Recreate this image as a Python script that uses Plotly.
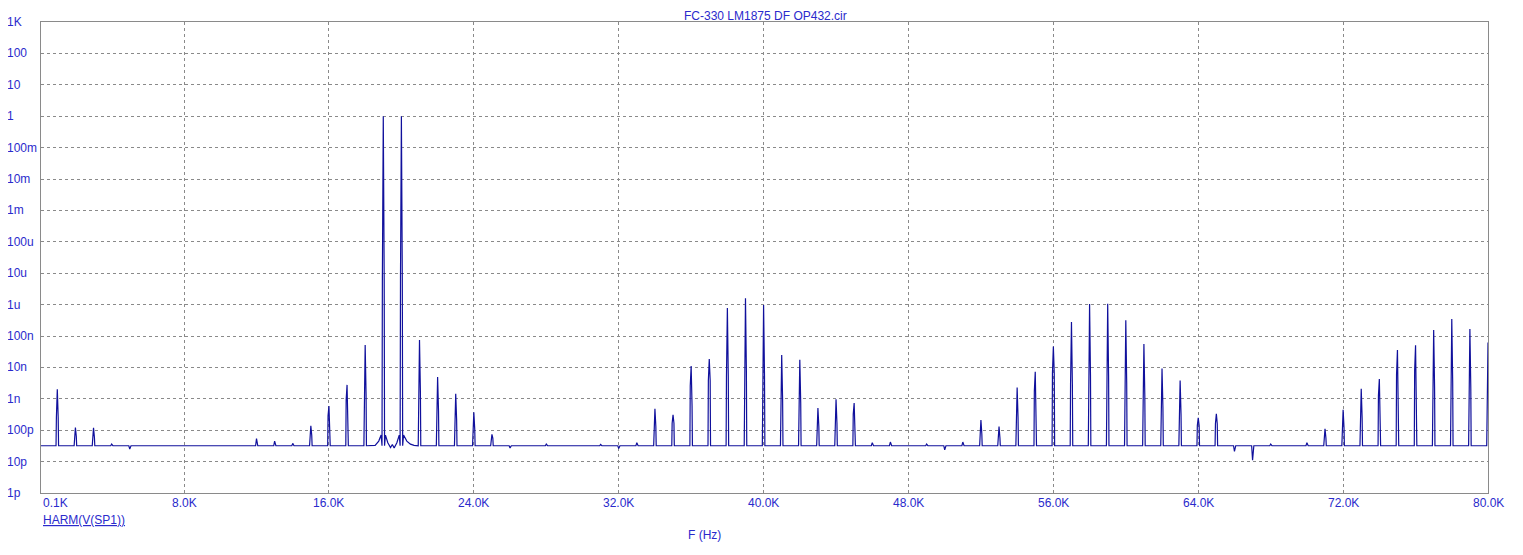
import math
import plotly.graph_objects as go

# ---------------- data ----------------
title_text = "FC-330 LM1875 DF OP432.cir"
trace_name = "HARM(V(SP1))"
x_title = "F (Hz)"

noise_floor = 32e-12  # V

# harmonic / spur frequencies (kHz)
spur_freq_k = [1, 2, 3, 4, 5, 12, 13, 14, 15, 16, 17, 18, 19, 20, 21, 22, 23, 24, 25, 26,
               28, 31, 32, 33, 34, 35, 36, 37, 38, 39, 40, 41, 42, 43, 44, 45, 46, 47, 49,
               50, 51, 52, 53, 54, 55, 56, 57, 58, 59, 60, 61, 62, 63, 64, 65, 66, 67, 68,
               70, 71, 72, 73, 74, 75, 76, 77, 78, 79, 80]
# peak value of each spur (V)
spur_peak = [2.0e-9, 1.22e-10, 1.2e-10, 3.6e-11, 2.5e-11, 5.4e-11, 4.5e-11, 3.8e-11, 1.38e-10,
             5.9e-10, 2.77e-9, 5.2e-8, 1.0, 1.0, 7.5e-8, 4.9e-9, 1.45e-9, 3.7e-10, 7.4e-11,
             2.7e-11, 3.6e-11, 3.5e-11, 2.6e-11, 4.0e-11, 4.8e-10, 3.1e-10, 1.11e-8, 1.86e-8,
             7.8e-7, 1.6e-6, 9.7e-7, 2.5e-8, 1.74e-8, 5.1e-10, 9.7e-10, 7.3e-10, 4.0e-11,
             4.2e-11, 3.6e-11, 2.35e-11, 4.2e-11, 2.1e-10, 1.3e-10, 2.3e-9, 7.2e-9, 4.6e-8,
             2.8e-7, 1.05e-6, 1.07e-6, 3.2e-7, 5.6e-8, 9.3e-9, 3.8e-9, 2.5e-10, 3.3e-10,
             2.1e-11, 1.1e-11, 3.6e-11, 4.0e-11, 1.1e-10, 4.5e-10, 2.07e-9, 4.3e-9, 3.6e-8,
             5.1e-8, 1.55e-7, 3.5e-7, 1.67e-7, 6.2e-8]
# value in the bin just below each spur (V)
spur_low_side = [2.5e-10, 6.3e-11, 6.0e-11, 32e-12, 32e-12, 32e-12, 32e-12, 32e-12, 6.8e-11,
                 2.9e-10, 9.3e-10, 1.33e-9, 7.1e-6, 7.1e-6, 1.6e-9, 4.1e-10, 2.1e-10, 1.07e-10,
                 5.5e-11, 32e-12, 32e-12, 32e-12, 32e-12, 32e-12, 1.32e-10, 1.66e-10, 2.57e-9,
                 3.8e-9, 5.1e-9, 7.3e-9, 5.4e-9, 9.3e-10, 7.4e-10, 1.3e-10, 1.7e-10, 3.2e-10,
                 32e-12, 32e-12, 32e-12, 32e-12, 32e-12, 7.7e-11, 5.7e-11, 2.6e-10, 1.7e-9,
                 6.5e-9, 2.9e-9, 5.6e-9, 5.6e-9, 3.2e-9, 1.3e-9, 5.4e-10, 3.3e-10, 1.4e-10,
                 1.6e-10, 32e-12, 32e-12, 32e-12, 32e-12, 5.7e-11, 1.2e-10, 2.5e-10, 1.25e-9,
                 5.7e-9, 7.8e-9, 2.2e-9, 3.3e-9, 2.2e-9, 1.25e-9]
# value in the bin just above each spur (V)
spur_high_side = [2.5e-10, 6.3e-11, 6.0e-11, 32e-12, 32e-12, 32e-12, 32e-12, 32e-12, 6.8e-11,
                  1.3e-10, 3.0e-10, 1.33e-9, 7.1e-6, 7.1e-6, 1.6e-9, 4.1e-10, 2.1e-10, 1.07e-10,
                  5.5e-11, 32e-12, 32e-12, 32e-12, 32e-12, 32e-12, 1.32e-10, 1.66e-10, 5.9e-10,
                  3.8e-9, 5.1e-9, 7.3e-9, 5.4e-9, 9.3e-10, 7.4e-10, 1.3e-10, 1.7e-10, 1.48e-10,
                  32e-12, 32e-12, 32e-12, 32e-12, 32e-12, 7.7e-11, 5.7e-11, 2.6e-10, 4.8e-10,
                  6.5e-9, 2.9e-9, 5.6e-9, 5.6e-9, 3.2e-9, 1.3e-9, 5.4e-10, 3.3e-10, 1.4e-10,
                  1.6e-10, 32e-12, 32e-12, 32e-12, 32e-12, 5.7e-11, 1.2e-10, 2.5e-10, 3.8e-10,
                  1.1e-9, 1.2e-9, 2.2e-9, 3.3e-9, 2.2e-9, 1.25e-9]

# leakage skirt around the two test tones (kHz, V)
skirt_freq_k = [18.55, 18.75, 18.88, 19.12, 19.25, 19.4, 19.5, 19.6, 19.75, 19.88,
                20.12, 20.3, 20.5, 20.7]
skirt_value = [33e-12, 45e-12, 70e-12, 70e-12, 40e-12, 28e-12, 35e-12, 27e-12, 40e-12, 70e-12,
               70e-12, 45e-12, 36e-12, 33e-12]

y_tick_values = [1e3, 1e2, 1e1, 1, 1e-1, 1e-2, 1e-3, 1e-4, 1e-5, 1e-6, 1e-7, 1e-8, 1e-9,
                 1e-10, 1e-11, 1e-12]
y_tick_labels = ["1K", "100", "10", "1", "100m", "10m", "1m", "100u", "10u", "1u", "100n",
                 "10n", "1n", "100p", "10p", "1p"]
x_tick_values = [100, 8000, 16000, 24000, 32000, 40000, 48000, 56000, 64000, 72000, 80000]
x_tick_labels = ["0.1K", "8.0K", "16.0K", "24.0K", "32.0K", "40.0K", "48.0K", "56.0K",
                 "64.0K", "72.0K", "80.0K"]

# ---------------- build the spectrum trace ----------------
BIN = 0.05  # kHz, bin step of the spectrum
pts = {}
pts[round(0.1, 3)] = noise_floor
for f, pk, lo, hi in zip(spur_freq_k, spur_peak, spur_low_side, spur_high_side):
    pts[round(f - 1.4 * BIN, 3)] = noise_floor
    pts[round(f - BIN, 3)] = lo
    pts[round(f, 3)] = pk
    pts[round(f + BIN, 3)] = hi
    pts[round(f + 1.4 * BIN, 3)] = noise_floor
for f, v in zip(skirt_freq_k, skirt_value):
    pts[round(f, 3)] = v
pts.setdefault(80.0, noise_floor)

xs = sorted(pts)
freq_hz = [k * 1000 for k in xs]
vals = [pts[k] for k in xs]

LINE_COLOR = "#10109c"
TEXT_COLOR = "#2a2acc"
GRID_COLOR = "#8a8a8a"
FONT = "Liberation Sans, Arial, sans-serif"

# page layout (page pixels); the html body adds an 8px offset
OFF = 8
PLOT_L, PLOT_R, PLOT_T, PLOT_B = 41, 1488, 21.5, 493.3
W, H = 1523 - 2 * OFF, 555 - 2 * OFF
L = int(round(PLOT_L - OFF))
T = int(round(PLOT_T - OFF))
R = W - int(round(PLOT_R - OFF))
B = H - int(round(PLOT_B - OFF))
plot_w = W - L - R
plot_h = H - T - B
plot_left_page = L + OFF
plot_bottom_page = OFF + H - B


def px_x(x):  # page x -> paper x
    return (x - plot_left_page) / plot_w


def px_y(y):  # page y -> paper y
    return (plot_bottom_page - y) / plot_h


fig = go.Figure()
fig.add_trace(go.Scatter(x=freq_hz, y=vals, mode="lines", name=trace_name,
                         line=dict(color=LINE_COLOR, width=1.2), showlegend=False))

font = dict(family=FONT, size=12, color=TEXT_COLOR)
annotations = []
for v, txt in zip(y_tick_values, y_tick_labels):
    annotations.append(dict(text=txt, xref="paper", x=px_x(5), xanchor="left",
                            yref="y", y=math.log10(v), yanchor="middle", showarrow=False,
                            font=font))
for i, (v, txt) in enumerate(zip(x_tick_values, x_tick_labels)):
    annotations.append(dict(text=txt, xref="x", x=v, xanchor="left" if i == 0 else "center",
                            yref="paper", y=px_y(502.5), yanchor="middle", showarrow=False,
                            font=font))
annotations.append(dict(text="<u>" + trace_name + "</u>", xref="paper", x=px_x(41),
                        xanchor="left", yref="paper", y=px_y(519.5), yanchor="middle",
                        showarrow=False, font=font))
annotations.append(dict(text=x_title, xref="paper", x=px_x(704), xanchor="center",
                        yref="paper", y=px_y(535), yanchor="middle", showarrow=False,
                        font=font))
annotations.append(dict(text=title_text, xref="paper", x=px_x(765), xanchor="center",
                        yref="paper", y=px_y(OFF + 0.3), yanchor="top", showarrow=False,
                        borderpad=0, font=font))

fig.update_layout(
    width=W, height=H,
    margin=dict(l=L, r=R, t=T, b=B, pad=0),
    paper_bgcolor="white", plot_bgcolor="white",
    annotations=annotations,
    xaxis=dict(range=[100, 80000], tickvals=x_tick_values[1:-1], showticklabels=False,
               ticks="", showgrid=True, gridcolor=GRID_COLOR, gridwidth=1, griddash="3px,3px",
               zeroline=False, showline=True, linecolor=GRID_COLOR, linewidth=1, mirror=True),
    yaxis=dict(type="log", range=[-12, 3], tickvals=y_tick_values[1:-1], showticklabels=False,
               ticks="", showgrid=True, gridcolor=GRID_COLOR, gridwidth=1, griddash="3px,3px",
               zeroline=False, showline=True, linecolor=GRID_COLOR, linewidth=1, mirror=True),
)

fig.write_html("out.html")
